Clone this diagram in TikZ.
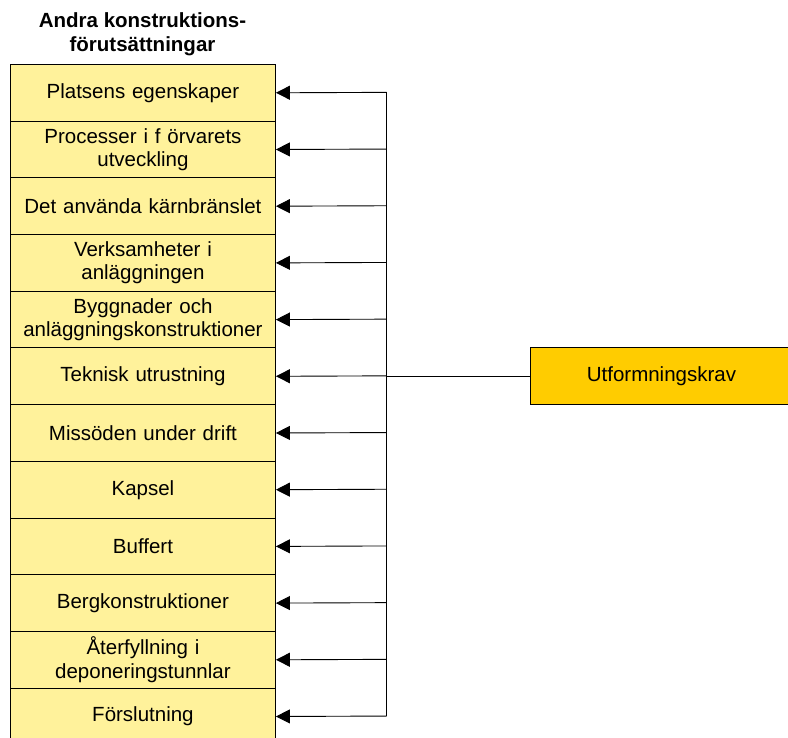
\documentclass[tikz,border=0pt]{standalone}
\usepackage{fontspec}
\setmainfont{Liberation Sans}
\usetikzlibrary{arrows.meta}
\definecolor{boxfill}{HTML}{FFF29B}
\definecolor{reqfill}{HTML}{FFCC00}
\begin{document}
\begin{tikzpicture}[x=1pt,y=-1pt,
  every node/.style={font=\fontsize{20.5}{23.5}\selectfont},
  factor/.style={draw=black,line width=0.9pt,fill=boxfill,anchor=north west,
    minimum width=265pt,minimum height=56.7pt,inner sep=0pt,align=center,text width=255pt},
  req/.style={draw=black,line width=0.9pt,fill=reqfill,anchor=north west,
    minimum width=262pt,minimum height=57pt,inner sep=0pt,align=center},
  wire/.style={draw=black,line width=0.9pt},
  arr/.style={wire,-{Triangle[length=14pt,width=14pt]}}]
\useasboundingbox (0,0) rectangle (788,738);
\clip (0,0) rectangle (788,738);

% heading above the column
\node[align=center,font=\fontsize{20.5}{24}\selectfont\bfseries] (title) at (142.5,34.5)
  {Andra konstruktions-\\förutsättningar};

% column of factor boxes
\foreach \i/\txt in {1/{Platsens egenskaper},
                     2/{Processer i f örvarets\\utveckling},
                     3/{Det använda kärnbränslet},
                     4/{Verksamheter i\\anläggningen},
                     5/{Byggnader och\\anläggningskonstruktioner},
                     6/{Teknisk utrustning},
                     7/{Missöden under drift},
                     8/{Kapsel},
                     9/{Buffert},
                     10/{Bergkonstruktioner},
                     11/{Återfyllning i\\deponeringstunnlar},
                     12/{Förslutning}}{
  \node[factor] (b\i) at (10,{64+(\i-1)*56.7}) {\txt};
  \coordinate (t\i) at (386.7,{64+(\i-0.5)*56.7});
}

% requirement box
\node[req] (u) at (530,347.3) {Utformningskrav};

% distribution bus
\draw[wire] (t1) -- (t12);
\draw[wire] (u.west) -- (u.west -| t1);
\foreach \i in {1,...,12}{
  \draw[arr] (t\i) -- (b\i.east);
}
\end{tikzpicture}
\end{document}
